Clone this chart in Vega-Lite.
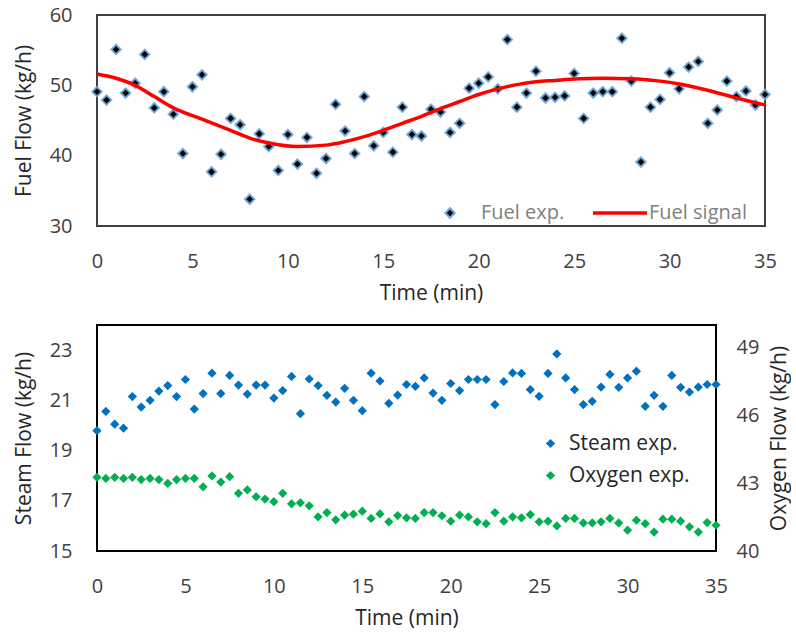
{
  "$schema": "https://vega.github.io/schema/vega-lite/v6.json",
  "background": "white",
  "padding": {"left": 12, "top": 4, "right": 0, "bottom": 4},
  "config": {
    "font": "Open Sans",
    "axis": {
      "grid": false,
      "ticks": false,
      "domain": false,
      "labelFlush": false,
      "labelFont": "Open Sans",
      "labelFontSize": 20,
      "labelColor": "#404040",
      "titleFont": "Open Sans",
      "titleFontSize": 21,
      "titleFontWeight": "normal",
      "titleColor": "#262626"
    },
    "legend": {
      "labelFont": "Open Sans",
      "labelFontSize": 21,
      "padding": 0
    }
  },
  "datasets": {
    "fuel": [
      {"time": 0, "flow": 49.1}, {"time": 0.5, "flow": 47.9}, {"time": 1, "flow": 55.1}, {"time": 1.5, "flow": 48.9},
      {"time": 2, "flow": 50.3}, {"time": 2.5, "flow": 54.4}, {"time": 3, "flow": 46.8}, {"time": 3.5, "flow": 49.1},
      {"time": 4, "flow": 45.9}, {"time": 4.5, "flow": 40.3}, {"time": 5, "flow": 49.8}, {"time": 5.5, "flow": 51.5},
      {"time": 6, "flow": 37.7}, {"time": 6.5, "flow": 40.2}, {"time": 7, "flow": 45.3}, {"time": 7.5, "flow": 44.4},
      {"time": 8, "flow": 33.8}, {"time": 8.5, "flow": 43.1}, {"time": 9, "flow": 41.3}, {"time": 9.5, "flow": 37.9},
      {"time": 10, "flow": 43.0}, {"time": 10.5, "flow": 38.8}, {"time": 11, "flow": 42.6}, {"time": 11.5, "flow": 37.5},
      {"time": 12, "flow": 39.6}, {"time": 12.5, "flow": 47.3}, {"time": 13, "flow": 43.5}, {"time": 13.5, "flow": 40.3},
      {"time": 14, "flow": 48.4}, {"time": 14.5, "flow": 41.4}, {"time": 15, "flow": 43.3}, {"time": 15.5, "flow": 40.5},
      {"time": 16, "flow": 46.9}, {"time": 16.5, "flow": 43.0}, {"time": 17, "flow": 42.8}, {"time": 17.5, "flow": 46.6},
      {"time": 18, "flow": 46.2}, {"time": 18.5, "flow": 43.3}, {"time": 19, "flow": 44.6}, {"time": 19.5, "flow": 49.6},
      {"time": 20, "flow": 50.3}, {"time": 20.5, "flow": 51.2}, {"time": 21, "flow": 49.5}, {"time": 21.5, "flow": 56.5},
      {"time": 22, "flow": 46.9}, {"time": 22.5, "flow": 48.9}, {"time": 23, "flow": 52.0}, {"time": 23.5, "flow": 48.2},
      {"time": 24, "flow": 48.3}, {"time": 24.5, "flow": 48.5}, {"time": 25, "flow": 51.7}, {"time": 25.5, "flow": 45.3},
      {"time": 26, "flow": 48.9}, {"time": 26.5, "flow": 49.1}, {"time": 27, "flow": 49.1}, {"time": 27.5, "flow": 56.7},
      {"time": 28, "flow": 50.6}, {"time": 28.5, "flow": 39.1}, {"time": 29, "flow": 46.9}, {"time": 29.5, "flow": 48.0},
      {"time": 30, "flow": 51.8}, {"time": 30.5, "flow": 49.5}, {"time": 31, "flow": 52.6}, {"time": 31.5, "flow": 53.4},
      {"time": 32, "flow": 44.6}, {"time": 32.5, "flow": 46.5}, {"time": 33, "flow": 50.6}, {"time": 33.5, "flow": 48.4},
      {"time": 34, "flow": 49.2}, {"time": 34.5, "flow": 47.2}, {"time": 35, "flow": 48.7}
    ],
    "signal": [
      {"time": 0, "flow": 51.6}, {"time": 1, "flow": 51.0}, {"time": 2, "flow": 50.0}, {"time": 3, "flow": 48.4},
      {"time": 4, "flow": 46.8}, {"time": 5.5, "flow": 45.2}, {"time": 7, "flow": 43.6}, {"time": 8, "flow": 42.5},
      {"time": 9, "flow": 41.8}, {"time": 10.5, "flow": 41.3}, {"time": 12, "flow": 41.5}, {"time": 13, "flow": 42.0},
      {"time": 14, "flow": 42.7}, {"time": 15, "flow": 43.6}, {"time": 16, "flow": 44.6}, {"time": 17, "flow": 45.6},
      {"time": 18, "flow": 46.7}, {"time": 19, "flow": 47.7}, {"time": 20, "flow": 48.7}, {"time": 21, "flow": 49.5},
      {"time": 22, "flow": 50.1}, {"time": 23, "flow": 50.5}, {"time": 24, "flow": 50.7}, {"time": 25, "flow": 50.9},
      {"time": 26.5, "flow": 51.0}, {"time": 28, "flow": 50.95}, {"time": 29.5, "flow": 50.6}, {"time": 30.5, "flow": 50.2},
      {"time": 32, "flow": 49.3}, {"time": 33.5, "flow": 48.2}, {"time": 35, "flow": 47.2}
    ],
    "steam": [
      {"time": 0, "flow": 19.79}, {"time": 0.5, "flow": 20.56}, {"time": 1, "flow": 20.05}, {"time": 1.5, "flow": 19.89},
      {"time": 2, "flow": 21.15}, {"time": 2.5, "flow": 20.73}, {"time": 3, "flow": 21.0}, {"time": 3.5, "flow": 21.37},
      {"time": 4, "flow": 21.59}, {"time": 4.5, "flow": 21.15}, {"time": 5, "flow": 21.83}, {"time": 5.5, "flow": 20.65},
      {"time": 6, "flow": 21.27}, {"time": 6.5, "flow": 22.08}, {"time": 7, "flow": 21.27}, {"time": 7.5, "flow": 21.99},
      {"time": 8, "flow": 21.61}, {"time": 8.5, "flow": 21.25}, {"time": 9, "flow": 21.61}, {"time": 9.5, "flow": 21.61},
      {"time": 10, "flow": 21.09}, {"time": 10.5, "flow": 21.39}, {"time": 11, "flow": 21.95}, {"time": 11.5, "flow": 20.47},
      {"time": 12, "flow": 21.85}, {"time": 12.5, "flow": 21.59}, {"time": 13, "flow": 21.2}, {"time": 13.5, "flow": 20.93},
      {"time": 14, "flow": 21.48}, {"time": 14.5, "flow": 21.0}, {"time": 15, "flow": 20.59}, {"time": 15.5, "flow": 22.08},
      {"time": 16, "flow": 21.77}, {"time": 16.5, "flow": 20.88}, {"time": 17, "flow": 21.21}, {"time": 17.5, "flow": 21.63},
      {"time": 18, "flow": 21.56}, {"time": 18.5, "flow": 21.89}, {"time": 19, "flow": 21.29}, {"time": 19.5, "flow": 21.0},
      {"time": 20, "flow": 21.67}, {"time": 20.5, "flow": 21.39}, {"time": 21, "flow": 21.83}, {"time": 21.5, "flow": 21.83},
      {"time": 22, "flow": 21.83}, {"time": 22.5, "flow": 20.83}, {"time": 23, "flow": 21.75}, {"time": 23.5, "flow": 22.09},
      {"time": 24, "flow": 22.07}, {"time": 24.5, "flow": 21.43}, {"time": 25, "flow": 21.16}, {"time": 25.5, "flow": 22.07},
      {"time": 26, "flow": 22.85}, {"time": 26.5, "flow": 21.89}, {"time": 27, "flow": 21.43}, {"time": 27.5, "flow": 20.83},
      {"time": 28, "flow": 20.96}, {"time": 28.5, "flow": 21.53}, {"time": 29, "flow": 22.03}, {"time": 29.5, "flow": 21.52},
      {"time": 30, "flow": 21.89}, {"time": 30.5, "flow": 22.16}, {"time": 31, "flow": 20.76}, {"time": 31.5, "flow": 21.2},
      {"time": 32, "flow": 20.76}, {"time": 32.5, "flow": 21.99}, {"time": 33, "flow": 21.52}, {"time": 33.5, "flow": 21.33},
      {"time": 34, "flow": 21.53}, {"time": 34.5, "flow": 21.63}, {"time": 35, "flow": 21.63}
    ],
    "oxygen": [
      {"time": 0, "flow": 43.26}, {"time": 0.5, "flow": 43.21}, {"time": 1, "flow": 43.26}, {"time": 1.5, "flow": 43.21},
      {"time": 2, "flow": 43.26}, {"time": 2.5, "flow": 43.16}, {"time": 3, "flow": 43.21}, {"time": 3.5, "flow": 43.16},
      {"time": 4, "flow": 42.99}, {"time": 4.5, "flow": 43.16}, {"time": 5, "flow": 43.21}, {"time": 5.5, "flow": 43.21},
      {"time": 6, "flow": 42.84}, {"time": 6.5, "flow": 43.32}, {"time": 7, "flow": 43.05}, {"time": 7.5, "flow": 43.29},
      {"time": 8, "flow": 42.55}, {"time": 8.5, "flow": 42.70}, {"time": 9, "flow": 42.40}, {"time": 9.5, "flow": 42.30},
      {"time": 10, "flow": 42.18}, {"time": 10.5, "flow": 42.55}, {"time": 11, "flow": 42.09}, {"time": 11.5, "flow": 42.13},
      {"time": 12, "flow": 42.0}, {"time": 12.5, "flow": 41.51}, {"time": 13, "flow": 41.70}, {"time": 13.5, "flow": 41.38},
      {"time": 14, "flow": 41.59}, {"time": 14.5, "flow": 41.63}, {"time": 15, "flow": 41.76}, {"time": 15.5, "flow": 41.44},
      {"time": 16, "flow": 41.64}, {"time": 16.5, "flow": 41.29}, {"time": 17, "flow": 41.57}, {"time": 17.5, "flow": 41.47},
      {"time": 18, "flow": 41.44}, {"time": 18.5, "flow": 41.70}, {"time": 19, "flow": 41.70}, {"time": 19.5, "flow": 41.56},
      {"time": 20, "flow": 41.32}, {"time": 20.5, "flow": 41.59}, {"time": 21, "flow": 41.51}, {"time": 21.5, "flow": 41.29},
      {"time": 22, "flow": 41.21}, {"time": 22.5, "flow": 41.70}, {"time": 23, "flow": 41.32}, {"time": 23.5, "flow": 41.51},
      {"time": 24, "flow": 41.47}, {"time": 24.5, "flow": 41.61}, {"time": 25, "flow": 41.29}, {"time": 25.5, "flow": 41.32},
      {"time": 26, "flow": 41.11}, {"time": 26.5, "flow": 41.44}, {"time": 27, "flow": 41.44}, {"time": 27.5, "flow": 41.24},
      {"time": 28, "flow": 41.24}, {"time": 28.5, "flow": 41.29}, {"time": 29, "flow": 41.44}, {"time": 29.5, "flow": 41.24},
      {"time": 30, "flow": 40.92}, {"time": 30.5, "flow": 41.36}, {"time": 31, "flow": 41.21}, {"time": 31.5, "flow": 40.84},
      {"time": 32, "flow": 41.41}, {"time": 32.5, "flow": 41.41}, {"time": 33, "flow": 41.32}, {"time": 33.5, "flow": 41.07},
      {"time": 34, "flow": 40.84}, {"time": 34.5, "flow": 41.26}, {"time": 35, "flow": 41.14}
    ]
  },
  "bounds": "flush",
  "spacing": 99,
  "vconcat": [
    {
      "width": 668,
      "height": 211,
      "view": {"stroke": "#404040", "strokeWidth": 2},
      "layer": [
        {
          "data": {"name": "fuel"},
          "mark": {"type": "point", "shape": "diamond", "filled": true, "size": 90, "opacity": 1, "stroke": "#6fa8dc", "strokeWidth": 2, "strokeOpacity": 0.9},
          "encoding": {
            "x": {"field": "time", "type": "quantitative", "scale": {"domain": [0, 35], "nice": false},
                  "axis": {"values": [0, 5, 10, 15, 20, 25, 30, 35], "title": "Time (min)", "labelPadding": 25, "titlePadding": 11}},
            "y": {"field": "flow", "type": "quantitative", "scale": {"domain": [30, 60], "nice": false, "zero": false},
                  "axis": {"values": [30, 40, 50, 60], "title": "Fuel Flow (kg/h)", "labelPadding": 25, "titlePadding": 15}},
            "fill": {"datum": "Fuel exp.", "scale": {"range": ["#000000"]},
                     "legend": {"orient": "none", "legendX": 343, "legendY": 188, "title": null, "symbolType": "diamond", "symbolSize": 90,
                                "symbolStrokeColor": "#6fa8dc", "symbolStrokeWidth": 2, "labelColor": "#7f7f7f", "labelFontSize": 20, "labelOffset": 21}}
          }
        },
        {
          "data": {"name": "signal"},
          "mark": {"type": "line", "interpolate": "monotone", "strokeWidth": 3.5, "color": "#ff0000"},
          "encoding": {
            "x": {"field": "time", "type": "quantitative"},
            "y": {"field": "flow", "type": "quantitative"},
            "stroke": {"datum": "Fuel signal", "scale": {"range": ["#ff0000"]},
                       "legend": {"orient": "none", "legendX": 494, "legendY": 169, "title": null, "symbolType": "stroke", "symbolSize": 2916,
                                  "symbolStrokeWidth": 3.5, "labelColor": "#7f7f7f", "labelFontSize": 20, "labelOffset": 0}}
          }
        }
      ]
    },
    {
      "width": 619,
      "height": 226,
      "view": {"stroke": "#000000", "strokeWidth": 2},
      "layer": [
        {
          "data": {"name": "steam"},
          "mark": {"type": "point", "shape": "diamond", "filled": true, "size": 85, "opacity": 1},
          "encoding": {
            "x": {"field": "time", "type": "quantitative", "scale": {"domain": [0, 35], "nice": false},
                  "axis": {"values": [0, 5, 10, 15, 20, 25, 30, 35], "title": "Time (min)", "labelPadding": 25, "titlePadding": 11}},
            "y": {"field": "flow", "type": "quantitative", "scale": {"domain": [15, 24], "nice": false, "zero": false},
                  "axis": {"values": [15, 17, 19, 21, 23], "title": "Steam Flow (kg/h)", "labelPadding": 25, "titlePadding": 15}},
            "color": {"datum": "Steam exp.", "scale": {"domain": ["Steam exp.", "Oxygen exp."], "range": ["#0070c0", "#00b050"]},
                      "legend": {"orient": "none", "legendX": 443, "legendY": 418, "title": null, "symbolType": "diamond", "symbolSize": 85,
                                 "labelColor": "#262626", "labelOffset": 8, "rowPadding": 10}}
          }
        },
        {
          "data": {"name": "oxygen"},
          "mark": {"type": "point", "shape": "diamond", "filled": true, "size": 85, "opacity": 1},
          "encoding": {
            "x": {"field": "time", "type": "quantitative"},
            "y": {"field": "flow", "type": "quantitative", "scale": {"domain": [40, 50], "nice": false, "zero": false},
                  "axis": {"orient": "right", "values": [40, 43, 46, 49], "title": "Oxygen Flow (kg/h)", "titleAngle": 270, "titleBaseline": "top",
                           "labelPadding": 20, "titlePadding": 10}},
            "color": {"datum": "Oxygen exp."}
          }
        }
      ],
      "resolve": {"scale": {"y": "independent"}}
    }
  ]
}
